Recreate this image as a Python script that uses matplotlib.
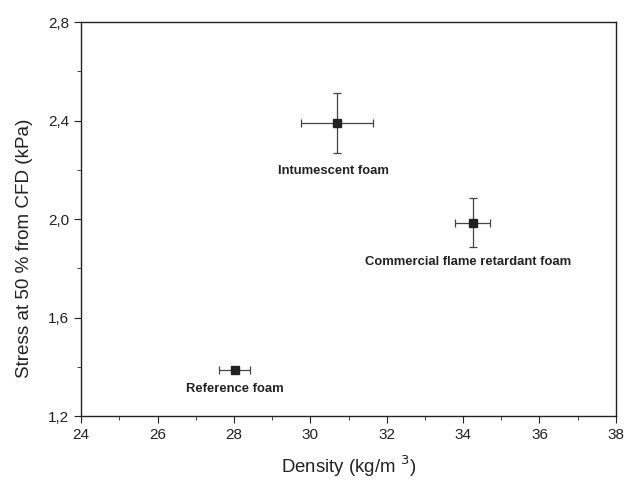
import matplotlib
matplotlib.use("Agg")
import matplotlib.pyplot as plt
from matplotlib.ticker import MultipleLocator, FuncFormatter

# data
foams = ["Reference foam", "Intumescent foam", "Commercial flame retardant foam"]
density = [28.02, 30.70, 34.25]
density_err = [0.40, 0.95, 0.45]
stress = [1.387, 2.39, 1.985]
stress_err = [0.01, 0.122, 0.10]

plt.rcParams["font.family"] = ["Liberation Sans", "DejaVu Sans"]

fig = plt.figure(figsize=(6.24, 4.8), dpi=100)
ax = fig.add_axes([0.13, 0.133, 0.857, 0.821])

ax.errorbar(density, stress, xerr=density_err, yerr=stress_err,
            fmt="s", color="#222222", ms=6, ecolor="#444444",
            elinewidth=0.9, capsize=3, capthick=0.9)

# label offsets (data units) below each point
offsets = [(0.0, -0.077), (-0.1, -0.195), (-0.12, -0.16)]
for name, x, y, (dx, dy) in zip(foams, density, stress, offsets):
    ax.text(x + dx, y + dy, name, ha="center", va="center",
            fontsize=9.4, fontweight="bold", color="#222222")

ax.set_xlim(24, 38)
ax.set_ylim(1.2, 2.8)
ax.xaxis.set_major_locator(MultipleLocator(2))
ax.xaxis.set_minor_locator(MultipleLocator(1))
ax.yaxis.set_major_locator(MultipleLocator(0.4))
ax.yaxis.set_minor_locator(MultipleLocator(0.2))
ax.yaxis.set_major_formatter(FuncFormatter(lambda v, p: f"{v:.1f}".replace(".", ",")))

ax.tick_params(which="both", direction="out", top=False, right=False,
               labelsize=11, colors="#222222")
ax.tick_params(which="major", length=5)
ax.tick_params(which="minor", length=3)
for s in ax.spines.values():
    s.set_linewidth(1.0)
    s.set_color("#222222")

ax.set_xlabel("Density (kg/m $^3$)", fontsize=13.4, color="#222222")
ax.set_ylabel("Stress at 50 % from CFD (kPa)", fontsize=13.6, color="#222222")
ax.xaxis.set_label_coords(0.5, -0.095)
ax.yaxis.set_label_coords(-0.09, 0.425)

fig.savefig("out.png", dpi=100)
